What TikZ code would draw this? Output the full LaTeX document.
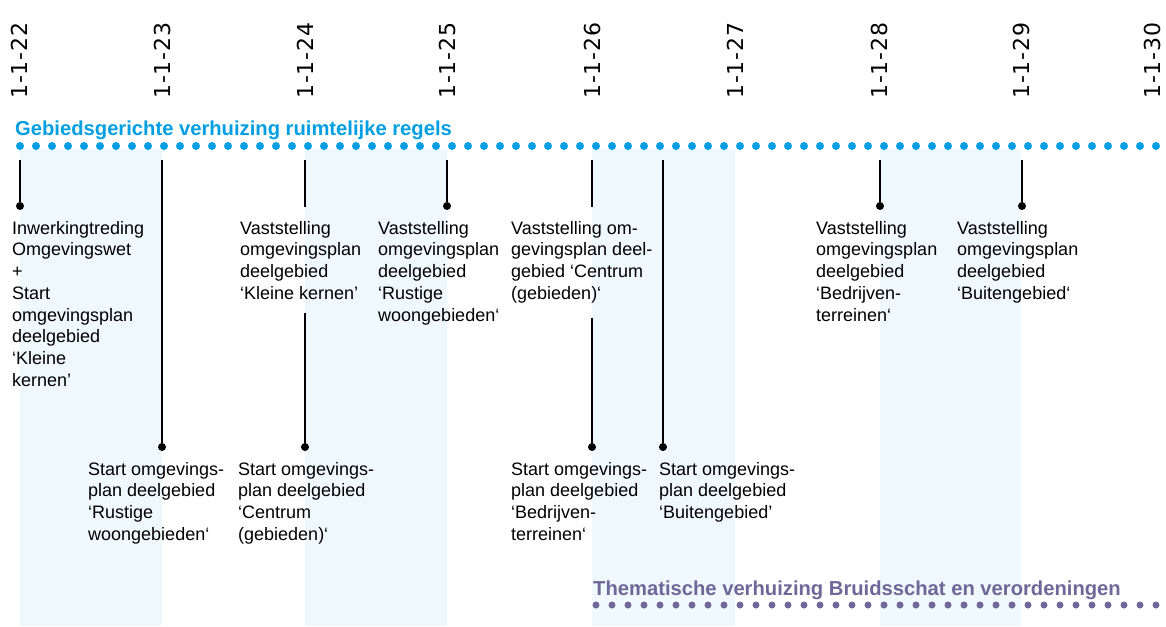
\documentclass[tikz,border=0pt]{standalone}
\usepackage{fontspec}
\setmainfont{Liberation Sans}
\newfontfamily\datefont[LetterSpace=4]{DejaVu Sans}
\usetikzlibrary{positioning}
\definecolor{regcol}{HTML}{009FE3}
\definecolor{themcol}{HTML}{6E6797}
\definecolor{bandcol}{HTML}{EFF8FD}

\begin{document}
\begin{tikzpicture}[x=1pt,y=-1pt,
  stem/.style={line width=1.8pt},
  pin/.style={circle,fill,inner sep=0pt,minimum size=8pt},
  lbl/.style={align=left,anchor=north west,inner sep=0pt,font=\fontsize{18}{21.7}\selectfont},
  head/.style={anchor=base west,inner sep=0pt,font=\bfseries\fontsize{20.2}{24}\selectfont},
  dotline/.style={line width=#1,line cap=round,dash pattern=on 0pt off 16pt}]
  \useasboundingbox (0,0) rectangle (1166,626);
  \foreach \a/\b in {20/162,305/447,592/735,880/1021}
    \fill[bandcol] (\a,149) rectangle (\b,626);
  \foreach \x/\yr in {19/22,162/23,305/24,447/25,592/26,735/27,879/28,1021/29,1152/30}
    \node[rotate=90,anchor=west,inner sep=0pt,font=\datefont\fontsize{22}{22}\selectfont] (d\yr) at (\x,99) {1-1-\yr};

  \node[head,text=regcol] (regtitle) at (15,135) {Gebiedsgerichte verhuizing ruimtelijke regels};
  \coordinate (regA) at (20,146); \coordinate (regB) at (1163,146);
  \draw[dotline=8pt,regcol] (regA) -- (regB);

  % 1-1-22
  \coordinate (top22) at (20,160);
  \node[pin] (pin22) at (20,206) {};
  \node[lbl] (txt22) at (12,221) {Inwerkingtreding\\Omgevingswet\\+\\Start\\omgevingsplan\\deelgebied\\‘Kleine\\kernen’};
  \draw[stem] (top22) -- (pin22);
  % 1-1-23
  \coordinate (top23) at (162,160);
  \node[pin] (pin23) at (162,447) {};
  \node[lbl] (txt23) at (88,462) {Start omgevings-\\plan deelgebied\\‘Rustige\\woongebieden‘};
  \draw[stem] (top23) -- (pin23);
  % 1-1-24
  \coordinate (top24) at (305,160); \coordinate (gap24) at (305,207);
  \node[lbl] (vst24) at (240,221) {Vaststelling\\omgevingsplan\\deelgebied\\‘Kleine kernen’};
  \coordinate (res24) at (305,313);
  \node[pin] (pin24) at (305,447) {};
  \node[lbl] (txt24) at (238,462) {Start omgevings-\\plan deelgebied\\‘Centrum\\(gebieden)‘};
  \draw[stem] (top24) -- (gap24) (res24) -- (pin24);
  % 1-1-25
  \coordinate (top25) at (447,160);
  \node[pin] (pin25) at (447,206) {};
  \node[lbl] (vst25) at (378,221) {Vaststelling\\omgevingsplan\\deelgebied\\‘Rustige\\woongebieden‘};
  \draw[stem] (top25) -- (pin25);
  % 1-1-26
  \coordinate (top26) at (592,160); \coordinate (gap26) at (592,207);
  \node[lbl] (vst26) at (511,221) {Vaststelling om-\\gevingsplan deel-\\gebied ‘Centrum\\(gebieden)‘};
  \coordinate (res26) at (592,318);
  \node[pin] (pin26) at (592,447) {};
  \node[lbl] (txt26) at (511,462) {Start omgevings-\\plan deelgebied\\‘Bedrijven-\\terreinen‘};
  \draw[stem] (top26) -- (gap26) (res26) -- (pin26);
  % mid 26/27
  \coordinate (top27) at (663,160);
  \node[pin] (pin27) at (663,447) {};
  \node[lbl] (txt27) at (659,462) {Start omgevings-\\plan deelgebied\\‘Buitengebied’};
  \draw[stem] (top27) -- (pin27);
  % 1-1-28
  \coordinate (top28) at (880,160);
  \node[pin] (pin28) at (880,206) {};
  \node[lbl] (vst28) at (816,221) {Vaststelling\\omgevingsplan\\deelgebied\\‘Bedrijven-\\terreinen‘};
  \draw[stem] (top28) -- (pin28);
  % 1-1-29
  \coordinate (top29) at (1022,160);
  \node[pin] (pin29) at (1022,206) {};
  \node[lbl] (vst29) at (957,221) {Vaststelling\\omgevingsplan\\deelgebied\\‘Buitengebied‘};
  \draw[stem] (top29) -- (pin29);

  \node[head,text=themcol] (themtitle) at (593,595) {Thematische verhuizing Bruidsschat en verordeningen};
  \coordinate (themA) at (596,605); \coordinate (themB) at (1163,605);
  \draw[dotline=7pt,themcol] (themA) -- (themB);
\end{tikzpicture}
\end{document}
